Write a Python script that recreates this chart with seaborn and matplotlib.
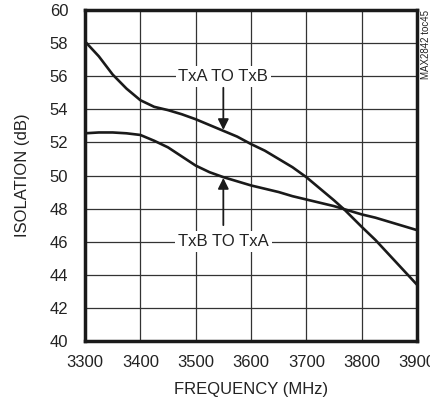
import matplotlib
matplotlib.use("Agg")
import matplotlib.pyplot as plt
import seaborn as sns
import pandas as pd

# data
freq = [3300, 3325, 3350, 3375, 3400, 3425, 3450, 3475, 3500, 3525, 3550, 3575, 3600,
        3625, 3650, 3675, 3700, 3725, 3750, 3770, 3800, 3825, 3850, 3875, 3900]
txa_to_txb = [58.1, 57.2, 56.1, 55.25, 54.55, 54.15, 53.95, 53.7, 53.4, 53.05, 52.7, 52.35, 51.9,
              51.5, 51.0, 50.5, 49.9, 49.2, 48.5, 47.9, 46.9, 46.1, 45.2, 44.3, 43.4]
txb_to_txa = [52.55, 52.6, 52.6, 52.55, 52.45, 52.1, 51.7, 51.15, 50.6, 50.2, 49.9, 49.65, 49.4,
              49.2, 49.0, 48.75, 48.55, 48.35, 48.15, 47.95, 47.65, 47.45, 47.2, 46.95, 46.7]
xticks = [3300, 3400, 3500, 3600, 3700, 3800, 3900]
yticks = list(range(40, 61, 2))

df = pd.DataFrame({"freq": freq * 2,
                   "iso": txa_to_txb + txb_to_txa,
                   "path": ["TxA TO TxB"] * len(freq) + ["TxB TO TxA"] * len(freq)})

sns.set_style("white")
plt.rcParams["font.family"] = ["Liberation Sans", "DejaVu Sans"]

fig = plt.figure(figsize=(4.31, 4.04), dpi=100)
ax = fig.add_axes([85 / 431, 63 / 404, 332 / 431, 331 / 404])

sns.lineplot(data=df, x="freq", y="iso", units="path", estimator=None,
             color="#1a1a1a", lw=1.9, ax=ax, legend=False, zorder=3)

ax.set_xlim(3300, 3900)
ax.set_ylim(40, 60)
ax.set_xticks(xticks)
ax.set_yticks(yticks)
ax.grid(True, color="#333333", lw=0.9)
ax.tick_params(length=0, labelsize=12, colors="#222222")
ax.tick_params(axis="x", pad=10)
ax.tick_params(axis="y", pad=12)
for s in ax.spines.values():
    s.set_linewidth(2.5)
    s.set_color("#1a1a1a")

ax.set_xlabel("FREQUENCY (MHz)", fontsize=12, color="#222222", labelpad=9)
ax.set_ylabel("ISOLATION (dB)", fontsize=12, color="#222222", labelpad=14)

# callout labels with arrows
box = dict(facecolor="white", edgecolor="none", pad=2)
ax.text(3550, 56, "TxA TO TxB", ha="center", va="center", fontsize=12,
        color="#222222", bbox=box, zorder=4)
ax.annotate("", xy=(3550, 52.75), xytext=(3550, 55.3),
            arrowprops=dict(arrowstyle="-|>", color="#1a1a1a", lw=1.3,
                            mutation_scale=16, shrinkA=0, shrinkB=0), zorder=4)
ax.text(3550, 46, "TxB TO TxA", ha="center", va="center", fontsize=12,
        color="#222222", bbox=box, zorder=4)
ax.annotate("", xy=(3550, 49.85), xytext=(3550, 47.0),
            arrowprops=dict(arrowstyle="-|>", color="#1a1a1a", lw=1.3,
                            mutation_scale=16, shrinkA=0, shrinkB=0), zorder=4)

fig.text(426 / 431, 1 - 10 / 404, "MAX2842 toc45", rotation=90, ha="center",
         va="top", fontsize=7, color="#222222")

fig.savefig("out.png", dpi=100)
